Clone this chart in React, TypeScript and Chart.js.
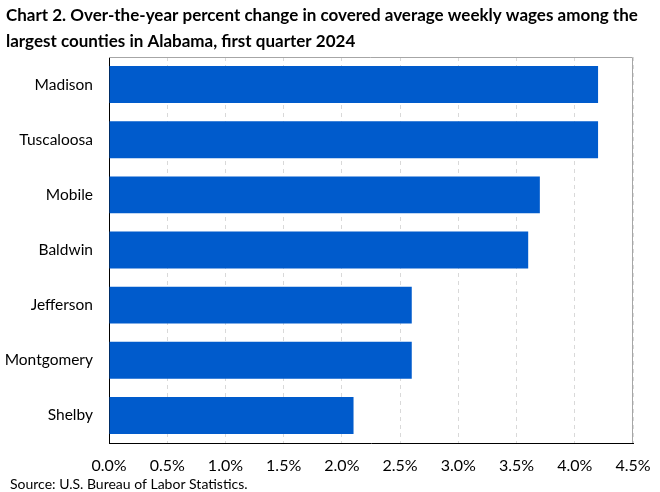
import { useEffect, useRef } from "react";
import { Chart, registerables } from "chart.js";

Chart.register(...registerables);

const counties = ["Madison", "Tuscaloosa", "Mobile", "Baldwin", "Jefferson", "Montgomery", "Shelby"];
const wageChange = [4.2, 4.2, 3.7, 3.6, 2.6, 2.6, 2.1];
const titleLines = [
  "Chart 2. Over-the-year percent change in covered average weekly wages among the",
  "largest counties in Alabama, first quarter 2024",
];
const sourceText = "Source: U.S. Bureau of Labor Statistics.";

const FONT = "Lato, 'Liberation Sans', sans-serif";

// gray frame on top and right of the plot, plus the source note
const extras = {
  id: "extras",
  afterDraw(chart: Chart) {
    const { ctx, chartArea } = chart;
    ctx.save();
    ctx.strokeStyle = "#a6a6a6";
    ctx.lineWidth = 1;
    ctx.beginPath();
    ctx.moveTo(chartArea.left, chartArea.top + 0.5);
    ctx.lineTo(chartArea.right - 0.5, chartArea.top + 0.5);
    ctx.lineTo(chartArea.right - 0.5, chartArea.bottom);
    ctx.stroke();

    ctx.fillStyle = "#000";
    ctx.font = `14px ${FONT}`;
    ctx.textBaseline = "middle";
    ctx.textAlign = "left";
    ctx.fillText(sourceText, 10, 484);
    ctx.restore();
  },
};

function App() {
  const canvasRef = useRef<HTMLCanvasElement | null>(null);

  useEffect(() => {
    if (!canvasRef.current) return;
    const chart = new Chart(canvasRef.current, {
      type: "bar",
      data: {
        labels: counties,
        datasets: [
          {
            label: "Percent change",
            data: wageChange,
            backgroundColor: "#005bcc",
            categoryPercentage: 0.67,
            barPercentage: 1,
          },
        ],
      },
      options: {
        indexAxis: "y",
        animation: false,
        responsive: false,
        maintainAspectRatio: false,
        layout: { padding: { left: 6, right: 0, top: 0, bottom: 17 } },
        plugins: {
          legend: { display: false },
          tooltip: { enabled: false },
          title: {
            display: true,
            text: titleLines,
            align: "start",
            color: "#000",
            font: { family: FONT, size: 17, weight: "bold", lineHeight: 1.5 },
            padding: { top: 3, bottom: 3 },
          },
        },
        scales: {
          x: {
            min: 0,
            max: 4.5,
            afterFit: (scale) => {
              scale.height = 32;
              scale.paddingRight = 27;
              scale.paddingLeft = 0;
            },
            ticks: {
              stepSize: 0.5,
              color: "#000",
              font: { family: FONT, size: 16 },
              padding: 13,
              callback: (v) => Number(v).toFixed(1) + "%",
            },
            grid: { color: "#d9d9d9", drawTicks: false },
            border: { color: "#000", dash: [4, 4], width: 1 },
          },
          y: {
            afterFit: (scale) => {
              scale.width = 103;
            },
            ticks: {
              color: "#000",
              font: { family: FONT, size: 15.5 },
              padding: 16,
            },
            grid: { display: false, drawTicks: false },
            border: { color: "#000", width: 1 },
          },
        },
      },
      plugins: [extras],
    });
    return () => chart.destroy();
  }, []);

  return (
    <div style={{ position: "absolute", left: 0, top: 0, width: 660, height: 492, background: "#fff" }}>
      <canvas ref={canvasRef} width={660} height={492} style={{ width: 660, height: 492 }} />
    </div>
  );
}

export default App;
